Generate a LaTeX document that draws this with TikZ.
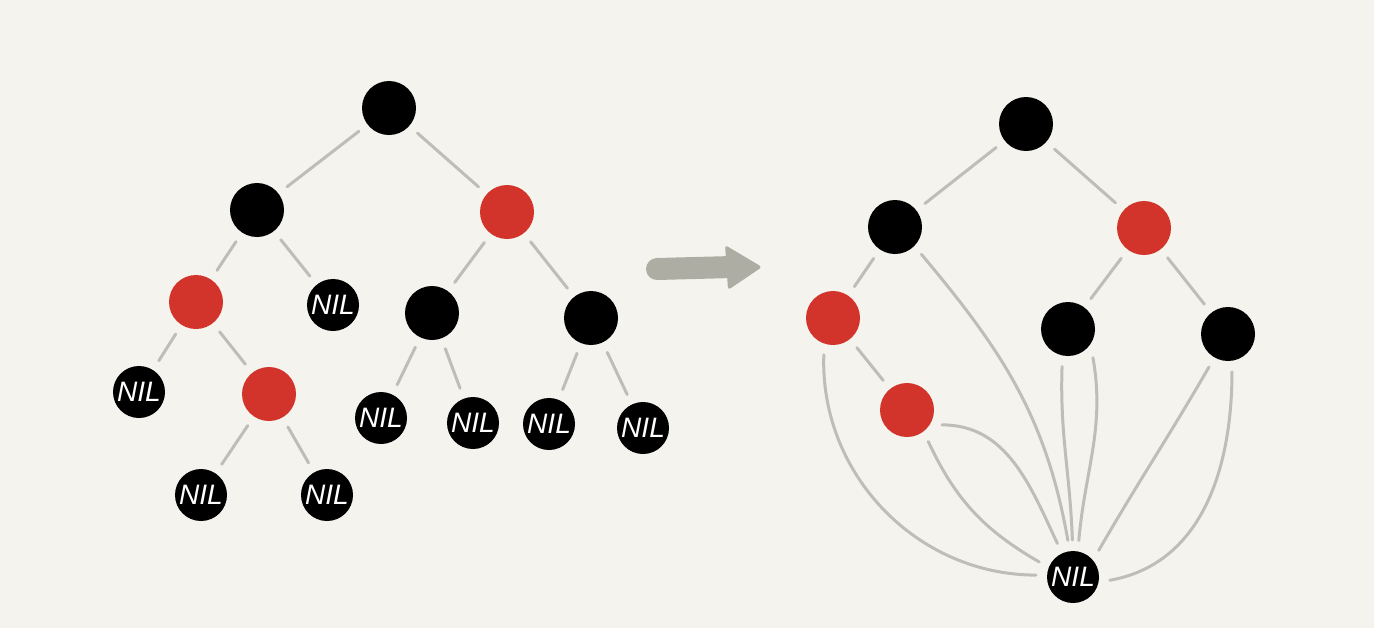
\documentclass[tikz,border=0pt]{standalone}
\usepackage{fontspec}
\setmainfont{Liberation Sans}
\usepackage{xcolor}
\usepackage{tikz}
\usetikzlibrary{arrows.meta, calc}
\definecolor{paper}{HTML}{F4F3EE}
\definecolor{rbRed}{HTML}{D2342B}
\definecolor{edgeGray}{HTML}{BEBDB6}
\definecolor{arrowGray}{HTML}{AEADA4}
\tikzset{
	blk/.style={circle, fill=black, minimum size=5.4mm, inner sep=0pt, outer sep=1.1mm},
	red/.style={circle, fill=rbRed, minimum size=5.4mm, inner sep=0pt, outer sep=1.1mm},
	nil/.style={blk, minimum size=5.2mm, text=white, font=\fontsize{8}{8}\selectfont\itshape},
	edge/.style={draw=edgeGray, line width=0.3mm, line cap=round},
}

\begin{document}
\begin{tikzpicture}[x=0.1mm, y=-0.1mm]
	\fill[paper] (0,0) rectangle (1374,628);
	\useasboundingbox (0,0) rectangle (1374,628);

	% left tree
	\node[blk] (root) at (389,108) {};
	\node[blk] (l) at (257,210) {};
	\node[red] (r) at (507,212) {};
	\node[red] (ll) at (196,302) {};
	\node[nil] (lrnil) at (333,305) {NIL};
	\node[nil] (lllnil) at (139,392) {NIL};
	\node[red] (llr) at (269,394) {};
	\node[nil] (llrlnil) at (201,495) {NIL};
	\node[nil] (llrrnil) at (327,495) {NIL};
	\node[blk] (rl) at (432,313) {};
	\node[blk] (rr) at (591,318) {};
	\node[nil] (rllnil) at (381,418) {NIL};
	\node[nil] (rlrnil) at (473,423) {NIL};
	\node[nil] (rrlnil) at (549,424) {NIL};
	\node[nil] (rrrnil) at (643,428) {NIL};

	\draw[edge] (root) -- (l);
	\draw[edge] (root) -- (r);
	\draw[edge] (l) -- (ll);
	\draw[edge] (l) -- (lrnil);
	\draw[edge] (ll) -- (lllnil);
	\draw[edge] (ll) -- (llr);
	\draw[edge] (llr) -- (llrlnil);
	\draw[edge] (llr) -- (llrrnil);
	\draw[edge] (r) -- (rl);
	\draw[edge] (r) -- (rr);
	\draw[edge] (rl) -- (rllnil);
	\draw[edge] (rl) -- (rlrnil);
	\draw[edge] (rr) -- (rrlnil);
	\draw[edge] (rr) -- (rrrnil);

	% arrow
	\coordinate (arrowStart) at (657,269);
	\coordinate (arrowEnd) at (732,267);
	\draw[arrowGray, line width=2.2mm, line cap=round] (arrowStart) -- (arrowEnd);
	\fill[arrowGray, rounded corners=0.3mm] (725,245) -- (762,267) -- (728,290) -- cycle;

	% right tree, one shared NIL
	\node[blk] (root2) at (1026,124) {};
	\node[blk] (l2) at (895,227) {};
	\node[red] (r2) at (1144,228) {};
	\node[red] (ll2) at (833,318) {};
	\node[red] (llr2) at (907,410) {};
	\node[blk] (rl2) at (1068,329) {};
	\node[blk] (rr2) at (1228,334) {};
	\node[nil] (nil) at (1073,577) {NIL};

	\draw[edge] (root2) -- (l2);
	\draw[edge] (root2) -- (r2);
	\draw[edge] (l2) -- (ll2);
	\draw[edge] (ll2) -- (llr2);
	\draw[edge] (r2) -- (rl2);
	\draw[edge] (r2) -- (rr2);

	\draw[edge] (ll2.-104) to[out=-92, in=180] (nil.177);
	\draw[edge] (llr2.-56) to[out=-65, in=150] (nil.156);
	\draw[edge] (llr2.-23) to[out=0, in=115] (nil.115);
	\draw[edge] (l2.-46) to[out=-50, in=100] (nil.98);
	\draw[edge] (rl2.-99) to[out=-92, in=92] (nil.91);
	\draw[edge] (rl2.-49) to[out=-80, in=85] (nil.81);
	\draw[edge] (rr2.-120) to[out=-120, in=60] (nil.46);
	\draw[edge] (rr2.-84) to[out=-90, in=10] (nil.-5);
\end{tikzpicture}
\end{document}
